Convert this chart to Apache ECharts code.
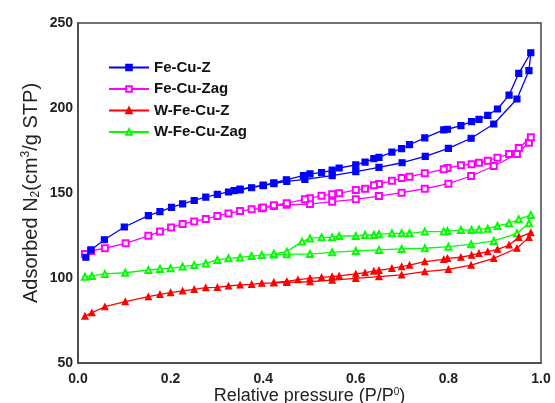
<!DOCTYPE html>
<html><head><meta charset="utf-8">
<script src="https://cdn.jsdelivr.net/npm/echarts@6/dist/echarts.min.js"></script>
<style>html,body{margin:0;padding:0;background:#fff}#c{width:555px;height:403px}</style>
</head><body><div id="c"></div>
<script>
const seriesNames = ['Fe-Cu-Z', 'Fe-Cu-Zag', 'W-Fe-Cu-Z', 'W-Fe-Cu-Zag'];
const xTicks = [0, 0.2, 0.4, 0.6, 0.8, 1.0];
const yTicks = [50, 100, 150, 200, 250];

// Fe-Cu-Z adsorption / desorption
const feCuZ_adsP = [0.017,0.028,0.057,0.10,0.152,0.177,0.202,0.226,0.251,0.276,0.301,0.325,0.35,0.375,0.40,0.423,0.451,0.49,0.549,0.60,0.65,0.70,0.75,0.80,0.849,0.898,0.948,0.974,0.978];
const feCuZ_adsV = [112.2,116.5,122.5,130.0,136.7,139.0,141.5,143.6,145.6,147.6,149.2,150.6,151.8,153.1,154.3,155.5,156.8,158.0,160.2,162.6,165.1,167.8,171.6,176.3,182.2,190.6,205.3,222.0,232.5];
const feCuZ_desP = [0.952,0.931,0.906,0.885,0.866,0.85,0.827,0.798,0.79,0.749,0.716,0.699,0.678,0.65,0.639,0.62,0.60,0.564,0.549,0.526,0.501,0.487,0.45,0.423,0.40,0.35,0.337];
const feCuZ_desV = [220.4,207.6,199.4,195.7,193.3,192.0,189.6,187.5,187.1,182.4,178.4,176.1,174.1,171.0,170.2,168.2,166.5,164.7,163.5,162.0,161.2,160.2,157.8,156.0,154.6,152.3,151.4];

// Fe-Cu-Zag
const feCuZag_adsP = [0.015,0.028,0.058,0.103,0.152,0.177,0.201,0.226,0.251,0.276,0.301,0.325,0.35,0.375,0.397,0.423,0.451,0.501,0.549,0.60,0.65,0.699,0.749,0.80,0.849,0.898,0.948,0.974,0.978];
const feCuZag_adsV = [114.1,115.9,117.5,120.4,124.8,127.3,129.7,131.7,133.3,134.7,136.5,138.0,139.4,140.4,141.0,142.4,143.1,143.5,144.9,146.3,148.2,150.2,152.5,155.5,160.0,165.9,172.9,179.6,182.8];
const feCuZag_desP = [0.952,0.931,0.906,0.885,0.866,0.85,0.827,0.798,0.79,0.749,0.716,0.699,0.678,0.65,0.639,0.62,0.60,0.564,0.549,0.526,0.501,0.49,0.451,0.423,0.40];
const feCuZag_desV = [176.5,172.9,170.8,169.0,167.8,166.9,166.3,164.7,163.9,161.6,159.6,158.8,157.2,155.3,154.5,152.5,151.8,149.8,149.2,148.4,146.9,146.3,144.0,142.8,141.4];

// W-Fe-Cu-Z
const wFeCuZ_adsP = [0.015,0.030,0.058,0.102,0.152,0.177,0.200,0.226,0.251,0.276,0.301,0.325,0.35,0.375,0.397,0.423,0.451,0.501,0.549,0.60,0.65,0.699,0.749,0.80,0.849,0.898,0.948,0.974,0.978];
const wFeCuZ_adsV = [77.6,79.6,83.1,86.1,89.0,90.4,91.4,92.4,93.3,94.3,94.5,95.3,95.9,96.3,96.9,97.1,97.4,97.8,98.8,99.8,100.8,101.8,103.7,105.1,107.6,111.6,117.5,123.9,126.7];
const wFeCuZ_desP = [0.952,0.931,0.906,0.885,0.866,0.85,0.827,0.798,0.79,0.749,0.716,0.699,0.678,0.65,0.639,0.62,0.60,0.564,0.549,0.526,0.501,0.475,0.451,0.423];
const wFeCuZ_desV = [123.9,119.4,116.9,115.5,114.5,113.5,112.2,111.6,111.0,109.6,107.6,106.7,105.7,104.5,104.1,103.1,102.4,101.2,100.8,100.4,99.8,99.0,98.0,97.4];

// W-Fe-Cu-Zag
const wFeCuZag_adsP = [0.015,0.030,0.058,0.102,0.152,0.177,0.200,0.226,0.251,0.276,0.301,0.325,0.35,0.375,0.397,0.423,0.451,0.501,0.549,0.60,0.65,0.699,0.749,0.80,0.849,0.898,0.948,0.974,0.978];
const wFeCuZag_adsV = [100.8,101.2,102.4,103.1,104.7,105.3,105.7,106.7,107.6,108.6,110.6,111.6,112.1,112.9,113.5,113.8,114.0,114.1,115.1,115.9,116.5,117.1,117.5,118.4,119.8,121.8,126.3,132.2,137.1];
const wFeCuZag_desP = [0.952,0.931,0.906,0.885,0.866,0.85,0.827,0.798,0.79,0.749,0.716,0.699,0.678,0.65,0.639,0.62,0.60,0.564,0.549,0.526,0.501,0.484,0.451,0.423];
const wFeCuZag_desV = [134.5,132.2,130.6,129.0,128.6,128.2,128.2,127.6,127.3,127.3,126.3,126.3,126.3,125.7,125.3,125.3,124.7,124.7,123.9,123.9,123.3,121.4,115.5,114.3];

function pairs(ap, av, dp, dv) {
  const out = [];
  ap.forEach((p, i) => out.push([p, av[i]]));
  dp.forEach((p, i) => out.push([p, dv[i]]));
  return out;
}

const colors = ['#0000ff', '#ff00ff', '#ff0000', '#00ff00'];
const symbols = ['rect', 'emptyRect', 'triangle', 'emptyTriangle'];
const sizes = [6, 6, 6, 6];
const dataSets = [
  pairs(feCuZ_adsP, feCuZ_adsV, feCuZ_desP, feCuZ_desV),
  pairs(feCuZag_adsP, feCuZag_adsV, feCuZag_desP, feCuZag_desV),
  pairs(wFeCuZ_adsP, wFeCuZ_adsV, wFeCuZ_desP, wFeCuZ_desV),
  pairs(wFeCuZag_adsP, wFeCuZag_adsV, wFeCuZag_desP, wFeCuZag_desV)
];

const font = 'Liberation Sans, Arial, sans-serif';
const chart = echarts.init(document.getElementById('c'), null, {renderer: 'canvas'});
chart.setOption({
  animation: false,
  backgroundColor: '#fff',
  grid: {left: 78, right: 14, top: 23, bottom: 40, containLabel: false, outerBoundsMode: 'none',
    show: true, borderColor: '#444', borderWidth: 1.5, backgroundColor: 'transparent'},
  legend: {
    orient: 'vertical', left: 103, top: 55, itemWidth: 40, itemHeight: 7, itemGap: 6.5,
    data: seriesNames,
    textStyle: {fontFamily: font, fontSize: 15, fontWeight: 'bold', color: '#111'}
  },
  xAxis: {
    type: 'value', min: 0, max: 1, interval: 0.2,
    axisLine: {show: true, lineStyle: {color: '#444', width: 1.5}},
    axisTick: {show: false}, splitLine: {show: false},
    axisLabel: {margin: 9, fontFamily: font, fontSize: 14, fontWeight: 'bold', color: '#222',
      formatter: v => v.toFixed(1)},
    name: 'Relative pressure (P/P{sup|0})', nameLocation: 'middle', nameGap: 24, nameMoveOverlap: false,
    nameTextStyle: {fontFamily: font, fontSize: 18, color: '#222',
      rich: {sup: {fontSize: 10, padding: [0, 0, 8, 0], fontFamily: font, color: '#222'}}}
  },
  yAxis: {
    type: 'value', min: 50, max: 250, interval: 50,
    axisLine: {show: true, lineStyle: {color: '#444', width: 1.5}},
    axisTick: {show: false}, splitLine: {show: false},
    axisLabel: {margin: 5, fontFamily: font, fontSize: 14, fontWeight: 'bold', color: '#222'},
    name: 'Adsorbed N{sub|2}(cm{sup|3}/g STP)', nameLocation: 'middle', nameGap: 36, nameMoveOverlap: false,
    nameTextStyle: {fontFamily: font, fontSize: 20, color: '#222',
      rich: {
        sub: {fontSize: 12, padding: [10, 0, 0, 0], fontFamily: font, color: '#222'},
        sup: {fontSize: 12, padding: [0, 0, 10, 0], fontFamily: font, color: '#222'}
      }}
  },
  series: seriesNames.map((n, i) => ({
    name: n, type: 'line', data: dataSets[i],
    symbol: symbols[i], symbolSize: sizes[i],
    lineStyle: {color: colors[i], width: 1.3},
    itemStyle: {color: colors[i], borderColor: colors[i], borderWidth: 1.2},
    z: 4 - i
  }))
});
</script></body></html>
